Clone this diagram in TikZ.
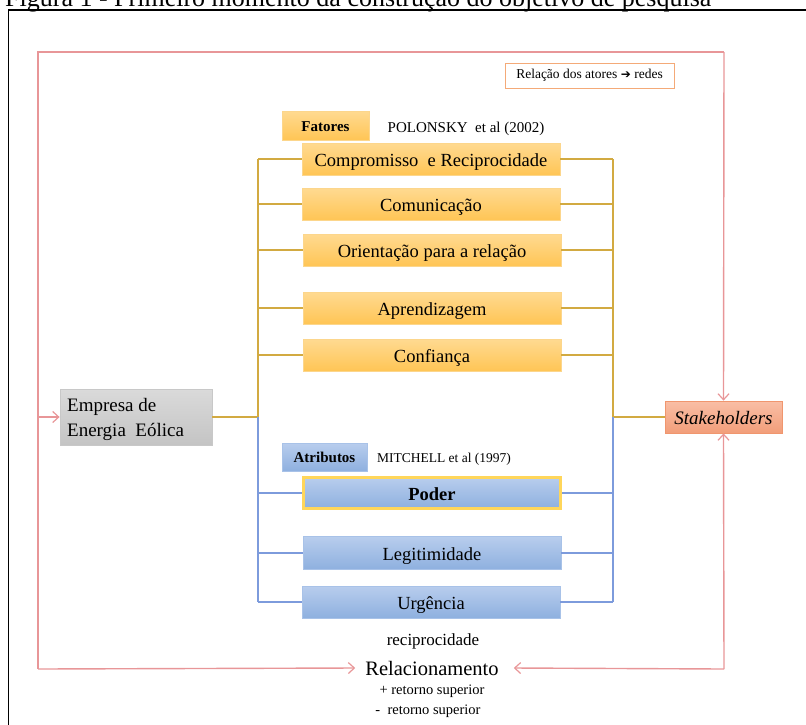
\documentclass[tikz,border=0pt]{standalone}
\usepackage{fontspec}
\setmainfont{Liberation Serif}
\newfontfamily\symfont{DejaVu Sans}
\usetikzlibrary{arrows.meta}
\definecolor{goldline}{RGB}{210,170,65}
\definecolor{blueline}{RGB}{125,155,220}
\definecolor{pinkline}{RGB}{232,150,152}
\definecolor{goldtop}{RGB}{255,218,145}
\definecolor{goldbot}{RGB}{255,197,85}
\definecolor{goldedge}{RGB}{252,214,140}
\definecolor{bluetop}{RGB}{184,205,237}
\definecolor{bluebot}{RGB}{142,176,223}
\definecolor{blueedge}{RGB}{168,194,232}
\definecolor{salmtop}{RGB}{249,190,165}
\definecolor{salmbot}{RGB}{242,158,122}
\definecolor{salmedge}{RGB}{240,150,110}
\definecolor{orangeedge}{RGB}{244,170,120}
\definecolor{polder}{RGB}{255,214,90}
\tikzset{
  fbox/.style={draw=goldedge, line width=0.8pt, top color=goldtop, bottom color=goldbot, minimum width=258pt, minimum height=32pt, inner sep=0pt, text height=14.5pt, text depth=0pt, font=\fontsize{18.5}{22}\selectfont},
  abox/.style={draw=blueedge, line width=0.8pt, top color=bluetop, bottom color=bluebot, minimum width=258pt, minimum height=32pt, inner sep=0pt, text height=14.5pt, text depth=0pt, font=\fontsize{18.5}{22}\selectfont},
  gline/.style={draw=goldline, line width=1.1pt},
  bline/.style={draw=blueline, line width=1.1pt},
  pline/.style={draw=pinkline, line width=1.4pt},
  parrow/.style={pline, -{Straight Barb[length=6pt,width=11pt,line width=1.2pt]}},
  plain/.style={inner sep=0pt},
}
\begin{document}
\begin{tikzpicture}[x=1pt,y=-1pt]
\useasboundingbox (0,0) rectangle (806,724);
% title and outer frame
\node[plain, anchor=base west, font=\fontsize{26}{30}\selectfont] (title) at (5,6.5) {Figura 1 - Primeiro momento da construção do objetivo de pesquisa};
\draw[line width=1.5pt] (830,10) -- (8.5,10) -- (8.5,740);

% nodes
\node[draw={rgb,255:red,200;green,200;blue,200}, line width=0.8pt, top color={rgb,255:red,218;green,218;blue,218}, bottom color={rgb,255:red,196;green,196;blue,196}, minimum width=152pt, minimum height=56pt, inner sep=0pt] (emp) at (136,417) {};
\node[plain, anchor=west, align=left, font=\fontsize{19}{25}\selectfont] (emptext) at (67,419) {Empresa de\\Energia\ \ Eólica};
\node[draw=salmedge, line width=0.8pt, top color=salmtop, bottom color=salmbot, minimum width=117pt, minimum height=32pt, inner sep=0pt, text height=14.5pt, text depth=0pt, font=\fontsize{19}{22}\selectfont\itshape] (stake) at (723.5,417) {Stakeholders};

\node[fbox, minimum width=87pt, minimum height=29pt, text height=11pt, font=\fontsize{15}{18}\selectfont\bfseries] (fat) at (325.5,125.5) {Fatores};
\node[plain, font=\fontsize{15}{18}\selectfont] (polo) at (466,129) {POLONSKY\ \ et al (2002)};
\node[fbox] (comp) at (431,159) {Compromisso\ \ e Reciprocidade};
\node[fbox] (comu) at (431,204) {Comunicação};
\node[fbox] (orie) at (432,250) {Orientação para a relação};
\node[fbox] (apre) at (432,308) {Aprendizagem};
\node[fbox] (conf) at (432,355) {Confiança};

\node[abox, minimum width=85pt, minimum height=28pt, text height=11pt, font=\fontsize{15}{18}\selectfont\bfseries] (atri) at (324.5,457) {Atributos};
\node[plain, font=\fontsize{13.5}{16}\selectfont] (mitc) at (444,459) {MITCHELL et al (1997)};
\node[abox, draw=polder, line width=3pt, minimum width=257pt, minimum height=31pt, font=\fontsize{18.5}{22}\selectfont\bfseries] (pode) at (432,493) {Poder};
\node[abox, minimum height=33pt] (legi) at (432,553) {Legitimidade};
\node[abox] (urge) at (431,602) {Urgência};

\node[draw=orangeedge, line width=0.8pt, fill=white, minimum width=169pt, minimum height=25pt, inner sep=0pt, font=\fontsize{13.5}{16}\selectfont] (rel) at (589.5,75.5) {Relação dos atores {\symfont\fontsize{12}{14}\selectfont ➔} redes};

\node[plain, font=\fontsize{17}{20}\selectfont] (reci) at (433,641) {reciprocidade};
\node[plain, font=\fontsize{20.5}{24}\selectfont] (rela) at (432,668) {Relacionamento};
\node[plain, font=\fontsize{14.5}{17}\selectfont] (ret1) at (432,691) {+ retorno superior};
\node[plain, font=\fontsize{14.5}{17}\selectfont] (ret2) at (428,711) {-\ \ retorno superior};

% junction coordinates
\coordinate (jL) at (258,417);
\coordinate (jR) at (613,417);
\coordinate (pTL) at (38,52);
\coordinate (pTR) at (724,52);
\coordinate (pBL) at (38,669);
\coordinate (pBR) at (724,669);
\coordinate (pL) at (38,417);

% gold connectors
\draw[gline] (emp.east) -- (jL);
\draw[gline] (comp.west -| jL) -- (jL);
\foreach \b in {comp,comu,orie,apre,conf} {
  \draw[gline] (\b.west -| jL) -- (\b.west);
  \draw[gline] (\b.east) -- (\b.east -| jR);
}
\draw[gline] (comp.east -| jR) -- (jR) -- (stake.west);
% blue connectors
\draw[bline] (jL) -- (urge.west -| jL);
\draw[bline] (jR) -- (urge.east -| jR);
\foreach \b in {pode,legi,urge} {
  \draw[bline] (\b.west -| jL) -- (\b.west);
  \draw[bline] (\b.east) -- (\b.east -| jR);
}

% pink loop
\draw[pline] (pTR) -- (pTL) -- (pBL);
\draw[parrow] (pBL) -- ([xshift=-10pt]rela.west);
\draw[parrow] (pTR) -- (stake.north);
\draw[parrow] (pL) -- (emp.west);
\draw[parrow] (pBR) -- ([xshift=15pt]rela.east);
\draw[parrow] (pBR) -- (stake.south);
\end{tikzpicture}
\end{document}
